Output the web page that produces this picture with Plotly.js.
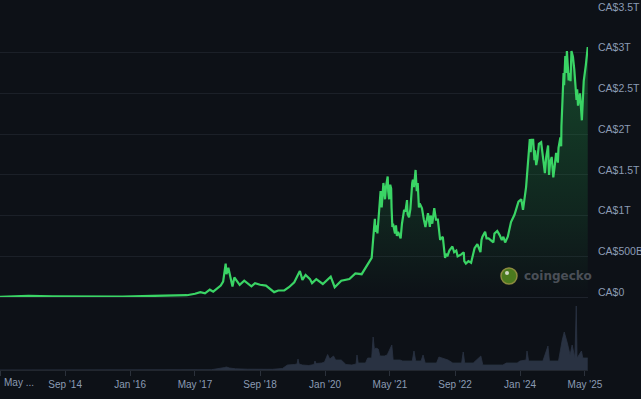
<!DOCTYPE html>
<html>
<head>
<meta charset="utf-8">
<script src="https://cdn.plot.ly/plotly-3.0.1.min.js"></script>
<style>
html,body{margin:0;padding:0;background:#0d1117;}
#chart{width:641px;height:399px;}
</style>
</head>
<body>
<div id="chart"></div>
<script>
// Bitcoin market cap (CA$ trillions)
const priceDates = [
'2013-04-28','2013-11-30','2014-06-01','2015-01-15','2015-11-05','2016-06-15','2017-01-05','2017-03-01',
'2017-05-01','2017-06-10','2017-07-15','2017-08-20','2017-09-15','2017-10-20','2017-11-10','2017-11-28',
'2017-12-07','2017-12-17','2017-12-23','2018-01-06','2018-02-06','2018-02-20','2018-03-05','2018-04-01',
'2018-05-05','2018-06-28','2018-07-25','2018-09-01','2018-10-15','2018-11-20','2018-12-15','2019-01-15',
'2019-03-01','2019-04-05','2019-05-15','2019-06-26','2019-07-15','2019-08-08','2019-09-10','2019-09-25',
'2019-10-27','2019-12-15','2020-02-12','2020-03-13','2020-05-01','2020-07-01','2020-08-15','2020-10-01',
'2020-11-15','2020-12-15','2021-01-02','2021-01-08','2021-01-12','2021-01-20','2021-01-27','2021-02-08',
'2021-02-20','2021-02-28','2021-03-05','2021-03-13','2021-03-20','2021-03-25','2021-04-01','2021-04-14',
'2021-04-18','2021-04-25','2021-05-03','2021-05-10','2021-05-13','2021-05-19','2021-05-24','2021-06-01',
'2021-06-08','2021-06-15','2021-06-22','2021-07-01','2021-07-20','2021-07-30','2021-08-15','2021-08-25',
'2021-09-06','2021-09-10','2021-09-21','2021-10-01','2021-10-05','2021-10-15','2021-10-20','2021-10-28',
'2021-11-09','2021-11-18','2021-11-25','2021-12-04','2021-12-10','2021-12-27','2022-01-10','2022-01-22',
'2022-02-10','2022-02-24','2022-03-02','2022-03-14','2022-03-29','2022-04-11','2022-04-25','2022-05-09',
'2022-05-12','2022-05-20','2022-06-01','2022-06-13','2022-06-18','2022-06-25','2022-07-05','2022-07-20',
'2022-08-12','2022-08-25','2022-09-10','2022-09-20','2022-10-15','2022-11-05','2022-11-09','2022-11-21',
'2022-12-10','2022-12-30','2023-01-14','2023-01-25','2023-02-15','2023-03-10','2023-03-18','2023-03-25',
'2023-04-14','2023-04-25','2023-05-10','2023-05-25','2023-06-15','2023-06-23','2023-07-14','2023-08-01',
'2023-08-17','2023-08-29','2023-09-11','2023-10-01','2023-10-25','2023-11-20','2023-12-08','2023-12-20',
'2024-01-10','2024-01-23','2024-02-15','2024-02-29','2024-03-05','2024-03-14','2024-03-20','2024-03-27',
'2024-04-08','2024-04-18','2024-04-22','2024-05-01','2024-05-10','2024-05-21','2024-06-07','2024-06-20',
'2024-07-05','2024-07-15','2024-07-29','2024-08-05','2024-08-13','2024-08-25','2024-09-06','2024-09-16',
'2024-09-27','2024-10-10','2024-10-15','2024-10-29','2024-11-04','2024-11-06','2024-11-12','2024-11-22',
'2024-11-26','2024-12-05','2024-12-10','2024-12-17','2024-12-30','2025-01-08','2025-01-13','2025-01-20',
'2025-01-31','2025-02-10','2025-02-27','2025-03-04','2025-03-10','2025-03-25','2025-04-08','2025-04-22',
'2025-05-08','2025-05-22'
];
const priceValues = [
0.0015,0.013,0.008,0.0035,0.006,0.013,0.02,0.022,
0.04,0.06,0.045,0.09,0.065,0.11,0.14,0.19,
0.30,0.41,0.28,0.36,0.13,0.24,0.21,0.15,
0.20,0.13,0.17,0.15,0.14,0.09,0.06,0.08,
0.08,0.12,0.18,0.32,0.21,0.27,0.22,0.17,
0.22,0.16,0.25,0.12,0.20,0.22,0.29,0.28,
0.40,0.48,0.85,0.96,0.80,0.88,0.78,1.10,
1.30,1.10,1.20,1.40,1.30,1.20,1.35,1.48,
1.30,1.20,1.38,1.33,1.10,0.86,0.90,0.85,
0.78,0.88,0.75,0.80,0.72,0.90,1.07,1.05,
1.19,1.02,0.98,1.08,1.20,1.40,1.44,1.35,
1.56,1.30,1.40,1.10,1.15,1.09,0.95,0.86,
1.03,0.86,1.00,0.90,1.09,0.95,0.95,0.75,
0.70,0.72,0.74,0.55,0.48,0.53,0.50,0.57,
0.62,0.55,0.57,0.50,0.52,0.55,0.44,0.41,
0.44,0.42,0.55,0.60,0.65,0.55,0.70,0.74,
0.80,0.72,0.72,0.70,0.67,0.78,0.81,0.76,
0.70,0.74,0.67,0.74,0.92,1.01,1.11,1.17,
1.20,1.07,1.35,1.65,1.80,1.94,1.78,1.93,
1.93,1.68,1.80,1.62,1.70,1.88,1.90,1.75,
1.52,1.72,1.86,1.50,1.65,1.72,1.47,1.60,
1.77,1.65,1.83,1.96,1.85,2.10,2.45,2.75,
2.60,2.96,2.75,3.02,2.66,2.75,2.65,3.02,
2.95,2.80,2.42,2.55,2.35,2.50,2.17,2.65,
2.85,3.07
];

// Trading volume (CA$ billions)
const volDates = [
'2013-04-28','2013-12-01','2014-06-01','2015-06-01','2016-06-01','2017-01-05','2017-06-01','2017-09-01',
'2017-12-10','2017-12-22','2018-01-15','2018-03-01','2018-06-01','2018-09-01','2018-12-01','2019-02-15',
'2019-03-25','2019-05-15','2019-06-05','2019-06-12','2019-06-20','2019-07-15','2019-09-01','2019-10-10',
'2019-10-17','2019-10-26','2019-12-08','2019-12-28','2020-01-20','2020-02-05','2020-03-04','2020-03-20',
'2020-05-01','2020-06-05','2020-07-20','2020-08-20','2020-08-27','2020-09-05','2020-10-30','2020-11-15',
'2020-12-15','2020-12-26','2021-01-05','2021-01-15','2021-02-02','2021-02-15','2021-03-20','2021-04-10',
'2021-05-15','2021-05-25','2021-07-15','2021-08-05','2021-10-15','2021-10-28','2021-11-10','2021-12-20',
'2022-01-04','2022-01-20','2022-04-15','2022-05-03','2022-06-01','2022-07-10','2022-08-15','2022-10-20',
'2022-11-01','2022-11-12','2023-01-15','2023-02-13','2023-03-13','2023-03-28','2023-08-25','2023-09-20',
'2023-12-10','2024-01-01','2024-02-15','2024-02-22','2024-03-05','2024-06-20','2024-07-28','2024-08-08',
'2024-10-15','2024-11-12','2024-11-27','2024-12-20','2025-01-10','2025-01-25','2025-02-15','2025-02-25',
'2025-03-03','2025-04-05','2025-04-15','2025-05-22'
];
const volValues = [
0.2,1,0.5,0.3,0.5,1.5,2,3,
25,30,20,12,8,6,7,15,
50,55,60,110,60,50,45,55,
90,65,70,80,155,110,140,100,
100,55,50,60,150,70,70,120,
120,330,200,220,210,140,140,150,
250,100,100,90,90,190,90,90,
150,70,70,130,120,100,70,70,
180,70,70,110,140,50,50,70,
70,90,100,190,90,90,240,90,
90,300,380,270,150,250,120,640,
120,190,120,120
];

const xTickVals = ['2013-05-01','2014-09-01','2016-01-01','2017-05-01','2018-09-01','2020-01-01','2021-05-01','2022-09-01','2024-01-01','2025-05-01'];
const xTickText = ['',"Sep '14","Jan '16","May '17","Sep '18","Jan '20","May '21","Sep '22","Jan '24","May '25"];
const firstTickLabel = 'May ...';
const yTickVals = [0,0.5,1,1.5,2,2.5,3,3.5];
const yTickText = ['CA$0','CA$500B','CA$1T','CA$1.5T','CA$2T','CA$2.5T','CA$3T','CA$3.5T'];

const labelColor = '#8b9bb4';
const fontFam = 'Liberation Sans, Arial, sans-serif';

const traces = [
  {
    x: volDates, y: volValues, type: 'scatter', mode: 'lines',
    xaxis: 'x', yaxis: 'y2',
    line: {color: '#293242', width: 0.8},
    fill: 'tozeroy', fillcolor: '#293242',
    hoverinfo: 'skip'
  },
  {
    x: priceDates, y: priceValues, type: 'scatter', mode: 'lines',
    xaxis: 'x', yaxis: 'y',
    line: {color: '#3ad465', width: 2.2},
    fill: 'tozeroy',
    fillgradient: {type: 'vertical', colorscale: [
      [0, 'rgba(34,150,72,0)'], [0.35, 'rgba(34,150,72,0.16)'], [1, 'rgba(34,150,72,0.40)']]},
    hoverinfo: 'skip'
  }
];

const layout = {
  width: 641, height: 399,
  margin: {l: 0, r: 53, t: 12, b: 29},
  paper_bgcolor: '#0d1117', plot_bgcolor: '#0d1117',
  showlegend: false,
  font: {family: fontFam, size: 10, color: labelColor},
  xaxis: {
    type: 'date', range: ['2013-05-01', '2025-05-24'],
    anchor: 'y2',
    tickmode: 'array', tickvals: xTickVals, ticktext: xTickText,
    ticks: 'outside', ticklen: 5, tickcolor: '#2b313b', tickwidth: 1,
    showline: true, linecolor: '#22272f', linewidth: 1,
    showgrid: false, zeroline: false,
    tickfont: {family: fontFam, size: 10, color: labelColor}
  },
  yaxis: {
    domain: [0.2039, 1], range: [0, 3.5],
    side: 'right', anchor: 'x',
    tickmode: 'array', tickvals: yTickVals, ticktext: yTickText,
    showgrid: true, gridcolor: '#1b2028', gridwidth: 1,
    zeroline: true, zerolinecolor: '#1e232c', zerolinewidth: 1,
    showline: false, ticks: '',
    ticklabelshift: -5, ticklabelstandoff: 9,
    tickfont: {family: fontFam, size: 10.5, color: labelColor}
  },
  yaxis2: {
    domain: [0, 0.1955], range: [0, 700],
    visible: false, showgrid: false, zeroline: false, anchor: 'x'
  },
  shapes: [
    {type: 'circle', xref: 'paper', yref: 'paper',
     x0: 501/588, x1: 517/588, y0: (370-284)/358, y1: (370-268)/358,
     fillcolor: '#4b7a1e', line: {color: '#8c8b3f', width: 1.5}, layer: 'above'},
    {type: 'circle', xref: 'paper', yref: 'paper',
     x0: 505/588, x1: 509/588, y0: (370-275)/358, y1: (370-271)/358,
     fillcolor: '#cfd6c4', line: {width: 0}, layer: 'above'}
  ],
  annotations: [
    {text: firstTickLabel, xref: 'paper', yref: 'paper', x: 0.003, xanchor: 'left',
     y: -12/358, yanchor: 'middle', showarrow: false,
     font: {family: fontFam, size: 10, color: labelColor}},
    {text: '<b>coingecko</b>', xref: 'paper', yref: 'paper', x: 522/588, xanchor: 'left',
     y: (370-276)/358, yanchor: 'middle', showarrow: false,
     font: {family: 'DejaVu Sans, sans-serif', size: 12, color: '#4a4f57'}}
  ]
};

Plotly.newPlot('chart', traces, layout, {staticPlot: true, displayModeBar: false});
</script>
</body>
</html>
